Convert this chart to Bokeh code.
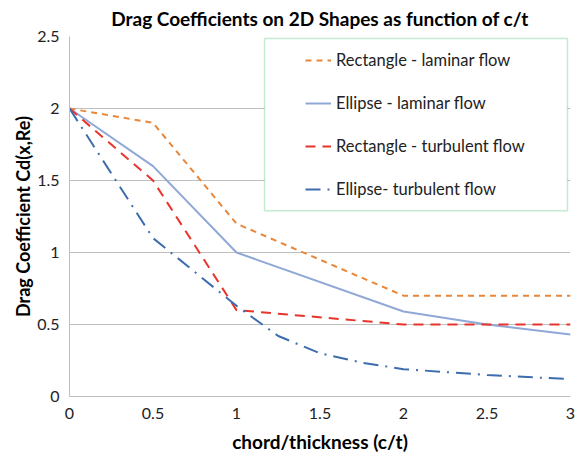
from bokeh.plotting import figure
from bokeh.models import Legend, LegendItem, BoxAnnotation, Range1d, FixedTicker
from bokeh.embed import file_html
from bokeh.resources import INLINE

# Drag coefficient vs chord/thickness ratio
ct_rect = [0, 0.5, 1, 2, 3]
cd_rect_laminar = [2.0, 1.9, 1.2, 0.7, 0.7]
cd_rect_turbulent = [2.0, 1.5, 0.6, 0.5, 0.5]

ct_ell_lam = [0, 0.5, 1, 2, 2.5, 3]
cd_ell_laminar = [2.0, 1.6, 1.0, 0.59, 0.5, 0.43]

ct_ell_turb = [0, 0.5, 1, 1.25, 1.5, 1.75, 2, 2.5, 3]
cd_ell_turbulent = [2.0, 1.1, 0.63, 0.42, 0.3, 0.235, 0.19, 0.15, 0.12]

x_ticks = [0, 0.5, 1, 1.5, 2, 2.5, 3]
x_tick_labels = ["0", "0.5", "1", "1.5", "2", "2.5", "3"]
y_ticks = [0, 0.5, 1, 1.5, 2, 2.5]
y_tick_labels = ["0", "0.5", "1", "1.5", "2", "2.5"]

FONT = "Lato"

p = figure(width=577, height=456, output_backend="svg", toolbar_location=None,
           x_range=Range1d(0, 3), y_range=Range1d(0, 2.5),
           min_border_left=69, min_border_right=7, min_border_top=36, min_border_bottom=60)

p.title.text = "Drag Coefficients on 2D Shapes as function of c/t"
p.title.align = "center"
p.title.vertical_align = "top"
p.title.text_font = FONT
p.title.text_font_size = "19px"
p.title.text_font_style = "bold"
p.title.text_color = "#000000"

p.outline_line_color = None
p.xgrid.grid_line_color = None
p.ygrid.grid_line_color = "#BFBFBF"
p.ygrid.grid_line_width = 1

for ax, ticks, labels in ((p.xaxis[0], x_ticks, x_tick_labels), (p.yaxis[0], y_ticks, y_tick_labels)):
    ax.ticker = FixedTicker(ticks=ticks)
    ax.major_label_overrides = {t: l for t, l in zip(ticks, labels)}
    ax.major_tick_line_color = None
    ax.minor_tick_line_color = None
    ax.axis_line_color = "#BFBFBF"
    ax.major_label_text_font = FONT
    ax.major_label_text_font_size = "16px"
    ax.major_label_text_color = "#222222"
    ax.axis_label_text_font = FONT
    ax.axis_label_text_font_style = "bold"
    ax.axis_label_text_color = "#000000"

p.xaxis.axis_label = "chord/thickness (c/t)"
p.yaxis.axis_label = "Drag Coefficient Cd(x,Re)"
p.xaxis.axis_label_text_font_size = "19px"
p.yaxis.axis_label_text_font_size = "18px"
p.xaxis.major_label_standoff = 5
p.yaxis.major_label_standoff = 4
p.xaxis.axis_label_standoff = 8
p.yaxis.axis_label_standoff = 0

r1 = p.line(ct_rect, cd_rect_laminar, line_color="#E8863A", line_width=2, line_dash="6 5")
r2 = p.line(ct_ell_lam, cd_ell_laminar, line_color="#8FA8D6", line_width=2)
r3 = p.line(ct_rect, cd_rect_turbulent, line_color="#E8342C", line_width=2, line_dash="10 7")
r4 = p.line(ct_ell_turb, cd_ell_turbulent, line_color="#3E6DAD", line_width=2, line_dash="15 7 2 7")

# framed legend panel
p.add_layout(BoxAnnotation(left=1.168, right=2.982, bottom=1.29, top=2.486,
                           fill_color="white", fill_alpha=1.0,
                           line_color="#3DBE6A", line_width=1.5))

legend = Legend(items=[
    LegendItem(label="Rectangle - laminar flow", renderers=[r1]),
    LegendItem(label="Ellipse - laminar flow", renderers=[r2]),
    LegendItem(label="Rectangle - turbulent flow", renderers=[r3]),
    LegendItem(label="Ellipse- turbulent flow", renderers=[r4]),
], location=(236, 197))
legend.border_line_color = None
legend.background_fill_alpha = 0
legend.padding = 0
legend.margin = 0
legend.spacing = 23
legend.glyph_width = 26
legend.glyph_height = 20
legend.label_height = 20
legend.label_standoff = 5
legend.label_text_font = FONT
legend.label_text_font_size = "16.5px"
legend.label_text_color = "#222222"
p.add_layout(legend)

open("out.html", "w").write(file_html(p, INLINE))
